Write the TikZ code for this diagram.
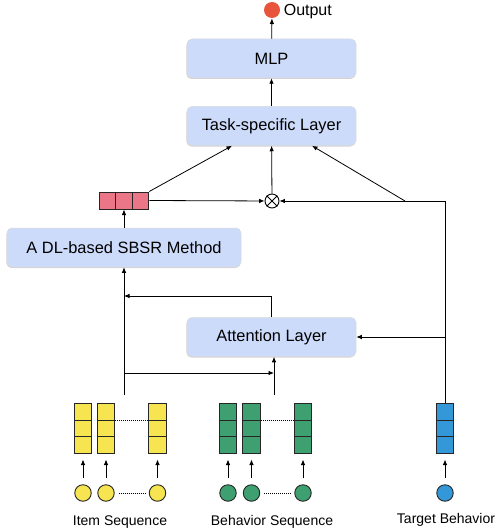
\documentclass[tikz,border=0pt]{standalone}
\usepackage{fontspec}
\setmainfont{Liberation Sans}
\usepackage{tikz}
\usetikzlibrary{arrows.meta,positioning,shadows}

\definecolor{boxblue}{RGB}{205,219,251}
\definecolor{yel}{RGB}{246,228,80}
\definecolor{grn}{RGB}{62,160,112}
\definecolor{blu}{RGB}{52,152,216}
\definecolor{pnk}{RGB}{234,118,136}
\definecolor{outred}{RGB}{232,84,60}

\begin{document}
\begin{tikzpicture}[x=1pt, y=-1pt, >={Latex[length=5.5pt,width=4.5pt]}, line width=0.8pt,
	layer/.style={draw=gray!30, line width=0.5pt, fill=boxblue, rounded corners=5pt, minimum height=39pt,
		drop shadow={opacity=0.35, shadow xshift=-0.6pt, shadow yshift=-1pt}, font=\fontsize{16.4}{19}\selectfont},
	cell/.style={draw=black!85, line width=1pt, minimum width=17.5pt, minimum height=16.5pt, inner sep=0pt},
	tok/.style={circle, draw=black!85, line width=0.9pt, minimum size=16.5pt, inner sep=0pt},
	lab/.style={font=\fontsize{14}{16}\selectfont},
	dots/.style={dash pattern=on 0.8pt off 1.2pt, line width=0.6pt},
	short/.style={shorten <=6pt, shorten >=6pt}]
	\useasboundingbox (0,0) rectangle (498,532);
	% layers
	\node[layer, minimum width=169pt] (mlp) at (271.5,58.5) {MLP};
	\node[layer, minimum width=169pt] (task) at (271.5,126) {Task-specific Layer};
	\node[layer, minimum width=169pt] (att) at (271.5,337) {Attention Layer};
	\node[layer, minimum width=234pt] (dl) at (124,247.5) {A DL-based SBSR Method};
	% output
	\node[circle, fill=outred, minimum size=16pt, inner sep=0pt] (out) at (272,10) {};
	\node[anchor=west, inner sep=3pt, font=\fontsize{16}{18}\selectfont] (outlab) at ([yshift=-1.5pt]out.east) {Output};
	% session embedding and product
	\foreach \k/\x in {1/107.5, 2/124, 3/140.5}
		\node[cell, fill=pnk, minimum width=16.5pt, minimum height=17pt] (e\k) at (\x,200.5) {};
	\node[tok, draw=black, fill=white, minimum size=14pt] (mul) at (272,201) {};
	\draw (mul.north west) -- (mul.south east) (mul.north east) -- (mul.south west);
	% embeddings and tokens
	\foreach \n/\x/\c in {i1/83/yel, i2/106/yel, i3/157.5/yel, b1/228/grn, b2/251.5/grn, b3/303/grn, t1/445/blu} {
		\foreach \k/\y in {1/411.75, 2/428.25, 3/444.75}
			\node[cell, fill=\c] (\n-\k) at (\x,\y) {};
		\node[tok, fill=\c] (\n-tok) at (\x,493) {};
		\draw[->, short] (\n-tok) -- (\n-3);
	}
	\foreach \a/\b in {i2/i3, b2/b3} {
		\draw[dots] (\a-1.south east) -- (\b-1.south west);
		\draw[dots, shorten <=4pt, shorten >=4pt] (\a-tok) -- (\b-tok);
	}
	\node[lab] (ilab) at (120,522) {Item Sequence};
	\node[lab] (blab) at (272,522) {Behavior Sequence};
	\node[lab] (tlab) at (446,520) {Target Behavior};
	% connectors
	\coordinate (iseq) at (124,395);
	\coordinate (bseq) at (274,395);
	\coordinate (split) at (124,373);
	\coordinate (merge) at (124,296);
	\coordinate (turn) at (t1-1.north |- mul);
	\draw[->] (mlp) -- (out);
	\draw[->] (task) -- (mlp);
	\draw[->] (iseq) -- (dl.south);
	\draw[->] (split) -- (split -| bseq);
	\draw[->] (bseq) -- (bseq |- att.south);
	\draw[->] (att.north) |- (merge);
	\draw[->] (dl.north -| e2) -- (e2);
	\draw[->] (e3.east) -- (mul);
	\draw[->] (t1-1.north) -- (turn) -- (mul);
	\draw[->] (t1-1.north |- att.east) -- (att.east);
	\draw[->] (mul) -- (task);
	\draw[->] (e3.north east) -- ([xshift=-39.5pt]task.south);
	\draw[->] ([xshift=-40pt]turn) -- ([xshift=40.5pt]task.south);
\end{tikzpicture}
\end{document}
